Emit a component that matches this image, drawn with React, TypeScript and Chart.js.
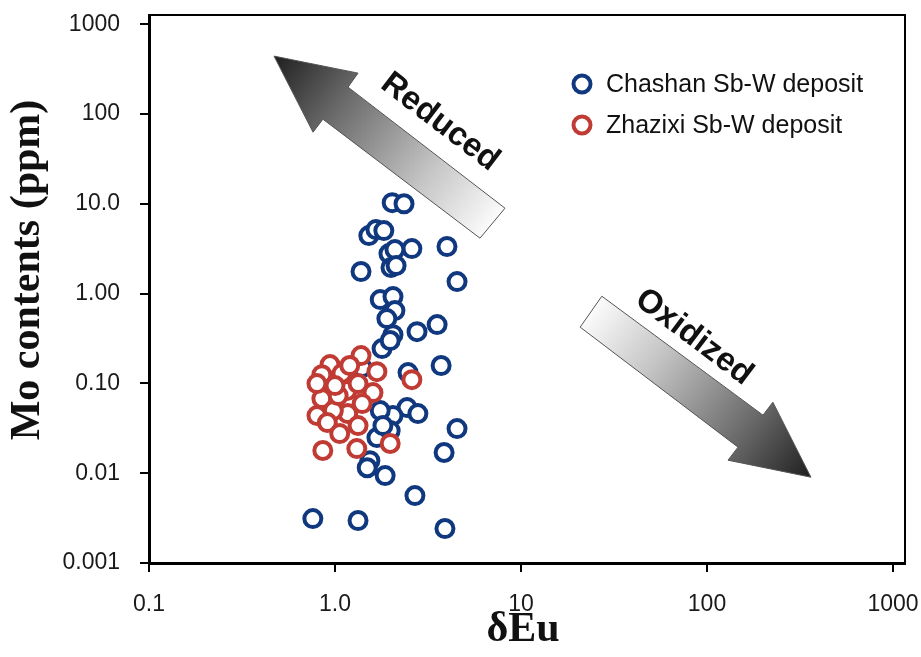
import React, { useEffect, useRef } from "react";
import { Chart, registerables } from "chart.js";

Chart.register(...registerables);

// ---- data ----
const seriesNames = ["Chashan Sb-W deposit", "Zhazixi Sb-W deposit"];

const chashanEu = [2.03, 2.35, 1.52, 1.66, 1.83, 2.59, 4.0, 1.95, 2.1, 2.0, 2.13, 1.38, 4.53, 1.75, 2.05, 2.1, 1.9, 3.54, 2.76, 2.05, 1.79, 1.98, 3.72, 2.47, 2.44, 2.79, 2.05, 1.75, 4.53, 1.68, 1.98, 3.86, 1.54, 1.49, 1.86, 2.69, 1.33, 3.9, 0.76, 1.4, 1.81];
const chashanMo = [10.3, 10.0, 4.42, 5.16, 5.03, 3.17, 3.34, 2.79, 3.09, 1.95, 2.05, 1.76, 1.36, 0.857, 0.926, 0.647, 0.527, 0.452, 0.377, 0.349, 0.244, 0.3, 0.158, 0.132, 0.0538, 0.0461, 0.0438, 0.0498, 0.0314, 0.0249, 0.0298, 0.017, 0.0138, 0.0115, 0.0094, 0.00563, 0.00297, 0.00242, 0.00312, 0.15, 0.0339];

const zhazixiEu = [1.38, 1.68, 0.94, 1.09, 0.85, 1.16, 1.6, 0.85, 1.33, 1.4, 1.17, 0.98, 0.8, 0.91, 1.33, 1.06, 0.86, 1.31, 1.98, 2.59, 0.8, 1.04, 1.0, 1.2];
const zhazixiMo = [0.204, 0.135, 0.162, 0.129, 0.125, 0.0832, 0.079, 0.0677, 0.0995, 0.0596, 0.0461, 0.0498, 0.0438, 0.0366, 0.0339, 0.0276, 0.0179, 0.0188, 0.0214, 0.11, 0.0995, 0.0731, 0.0945, 0.158];

const xTickValues = [0.1, 1, 10, 100, 1000];
const xTickLabels = ["0.1", "1.0", "10", "100", "1000"];
const yTickValues = [0.001, 0.01, 0.1, 1, 10, 100, 1000];
const yTickLabels = ["0.001", "0.01", "0.10", "1.00", "10.0", "100", "1000"];

const xTitle = "δEu";
const yTitle = "Mo contents (ppm)";

// Block-arrow outlines in data space (tip, head, notch, tail, tail, notch, head)
const reducedArrowEu = [0.47, 1.33, 1.175, 8.2, 6.02, 0.861, 0.762];
const reducedArrowMo = [441, 285, 199, 8.93, 4.14, 87.5, 62.7];
const oxidizedArrowEu = [362, 226, 200, 27.2, 20.8, 146.8, 129.7];
const oxidizedArrowMo = [0.00902, 0.0618, 0.0443, 0.935, 0.423, 0.0195, 0.01396];
const arrowLabels = ["Reduced", "Oxidized"];
const arrowLabelEu = [3.67, 85.1];
const arrowLabelMo = [81, 0.327];

const BLUE = "#10387f";
const RED = "#c03b33";

const labelFor = (vals: number[], labels: string[], v: number) => {
  const i = vals.findIndex((t) => Math.abs(Math.log10(t) - Math.log10(v)) < 1e-6);
  return i >= 0 ? labels[i] : "";
};

export default function App() {
  const ref = useRef<HTMLCanvasElement>(null);

  useEffect(() => {
    const canvas = ref.current!;

    const decorPlugin = {
      id: "decor",
      beforeDraw(chart: any) {
        const ctx = chart.ctx;
        ctx.save();
        ctx.fillStyle = "#ffffff";
        ctx.fillRect(0, 0, chart.width, chart.height);
        ctx.restore();
      },
      beforeDatasetsDraw(chart: any) {
        const ctx = chart.ctx as CanvasRenderingContext2D;
        const xs = chart.scales.x;
        const ys = chart.scales.y;
        const arrows = [
          { eu: reducedArrowEu, mo: reducedArrowMo },
          { eu: oxidizedArrowEu, mo: oxidizedArrowMo },
        ];
        arrows.forEach((a, k) => {
          const pts = a.eu.map((e, i) => ({ x: xs.getPixelForValue(e), y: ys.getPixelForValue(a.mo[i]) }));
          const tip = pts[0];
          const tail = { x: (pts[3].x + pts[4].x) / 2, y: (pts[3].y + pts[4].y) / 2 };
          ctx.save();
          const g = ctx.createLinearGradient(tip.x, tip.y, tail.x, tail.y);
          g.addColorStop(0, "#1f1f1f");
          g.addColorStop(0.3, "#6a6a6a");
          g.addColorStop(0.7, "#c4c4c4");
          g.addColorStop(1, "#fbfbfb");
          ctx.beginPath();
          pts.forEach((p, i) => (i === 0 ? ctx.moveTo(p.x, p.y) : ctx.lineTo(p.x, p.y)));
          ctx.closePath();
          ctx.fillStyle = g;
          ctx.fill();
          ctx.strokeStyle = "#555555";
          ctx.lineWidth = 1;
          ctx.stroke();

          // label
          let ang = Math.atan2(tail.y - tip.y, tail.x - tip.x);
          if (Math.cos(ang) < 0) ang += Math.PI;
          const lx = xs.getPixelForValue(arrowLabelEu[k]);
          const ly = ys.getPixelForValue(arrowLabelMo[k]);
          ctx.translate(lx, ly);
          ctx.rotate(ang);
          ctx.font = 'bold 33px "Liberation Sans", Arial, sans-serif';
          ctx.fillStyle = "#111111";
          ctx.textAlign = "center";
          ctx.textBaseline = "middle";
          ctx.fillText(arrowLabels[k], 0, 0);
          ctx.restore();
        });
      },
      afterDraw(chart: any) {
        const ctx = chart.ctx as CanvasRenderingContext2D;
        const area = chart.chartArea;
        ctx.save();
        // frame top & right
        ctx.strokeStyle = "#000000";
        ctx.lineWidth = 2;
        ctx.beginPath();
        ctx.moveTo(area.left, area.top);
        ctx.lineTo(area.right, area.top);
        ctx.lineTo(area.right, area.bottom);
        ctx.stroke();

        // legend
        const colors = [BLUE, RED];
        seriesNames.forEach((name, i) => {
          const cx = area.right - 323;
          const cy = area.top + 69 + i * 41;
          ctx.beginPath();
          ctx.arc(cx, cy, 8.5, 0, Math.PI * 2);
          ctx.fillStyle = "#ffffff";
          ctx.fill();
          ctx.lineWidth = 4;
          ctx.strokeStyle = colors[i];
          ctx.stroke();
          ctx.font = '25px "Liberation Sans", Arial, sans-serif';
          ctx.fillStyle = "#111111";
          ctx.textAlign = "left";
          ctx.textBaseline = "middle";
          ctx.fillText(name, cx + 24, cy + 1);
        });

        // axis titles
        ctx.fillStyle = "#111111";
        ctx.font = 'bold 42px "Liberation Serif", "Times New Roman", serif';
        ctx.textAlign = "center";
        ctx.textBaseline = "middle";
        ctx.fillText(xTitle, (area.left + area.right) / 2 - 4, area.bottom + 67);
        ctx.translate(area.left - 121, (area.top + area.bottom) / 2 - 19);
        ctx.rotate(-Math.PI / 2);
        ctx.fillText(yTitle, 0, 0);
        ctx.restore();
      },
    };

    const tickFont = { family: '"Liberation Sans", Arial, sans-serif', size: 23 };

    const chart = new Chart(canvas, {
      type: "scatter",
      data: {
        datasets: [
          {
            label: seriesNames[0],
            data: chashanEu.map((x, i) => ({ x, y: chashanMo[i] })),
            borderColor: BLUE,
            backgroundColor: "#ffffff",
            pointRadius: 8.5,
            pointBorderWidth: 4,
            order: 2,
          },
          {
            label: seriesNames[1],
            data: zhazixiEu.map((x, i) => ({ x, y: zhazixiMo[i] })),
            borderColor: RED,
            backgroundColor: "#ffffff",
            pointRadius: 8.5,
            pointBorderWidth: 4,
            order: 1,
          },
        ],
      },
      options: {
        animation: false,
        responsive: false,
        devicePixelRatio: 1,
        layout: { padding: { top: 15, right: 16, left: 0, bottom: 0 } },
        plugins: {
          legend: { display: false },
          tooltip: { enabled: false },
        },
        scales: {
          x: {
            type: "logarithmic",
            min: 0.1,
            max: 1160,
            afterBuildTicks: (s: any) => {
              s.ticks = xTickValues.map((v) => ({ value: v }));
            },
            afterFit: (s: any) => {
              s.height = 94;
              s.paddingLeft = 0;
              s.paddingRight = 0;
              s.paddingTop = 0;
              s.paddingBottom = 0;
            },
            ticks: {
              autoSkip: false,
              maxRotation: 0,
              padding: 19,
              color: "#1a1a1a",
              font: tickFont,
              callback: (v: any) => labelFor(xTickValues, xTickLabels, Number(v)),
            },
            grid: { drawOnChartArea: false, drawTicks: true, tickLength: 9, color: "#000", lineWidth: 2 },
            border: { display: true, color: "#000", width: 3 },
          },
          y: {
            type: "logarithmic",
            min: 0.001,
            max: 1265,
            afterBuildTicks: (s: any) => {
              s.ticks = yTickValues.map((v) => ({ value: v }));
            },
            afterFit: (s: any) => {
              s.width = 149;
              s.paddingLeft = 0;
              s.paddingRight = 0;
              s.paddingTop = 0;
              s.paddingBottom = 0;
            },
            ticks: {
              autoSkip: false,
              padding: 20,
              color: "#1a1a1a",
              font: tickFont,
              callback: (v: any) => labelFor(yTickValues, yTickLabels, Number(v)),
            },
            grid: { drawOnChartArea: false, drawTicks: true, tickLength: 9, color: "#000", lineWidth: 2 },
            border: { display: true, color: "#000", width: 3 },
          },
        },
      },
      plugins: [decorPlugin],
    } as any);

    return () => chart.destroy();
  }, []);

  return (
    <div style={{ position: "fixed", left: 0, top: 0, width: 921, height: 657, background: "#fff" }}>
      <canvas ref={ref} width={921} height={657} style={{ display: "block", width: 921, height: 657 }} />
    </div>
  );
}
